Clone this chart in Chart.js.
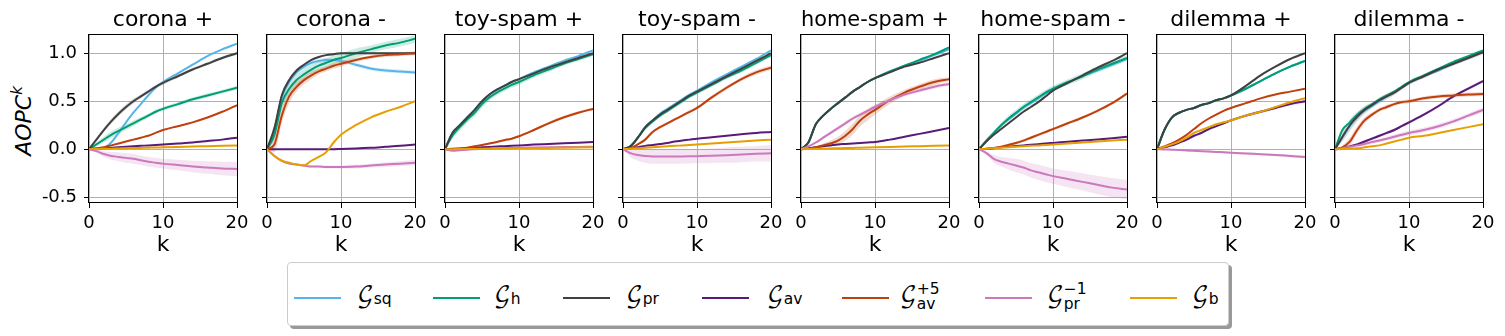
<!DOCTYPE html>
<html><head><meta charset="utf-8">
<script src="https://cdn.jsdelivr.net/npm/chart.js@4.4.0/dist/chart.umd.min.js"></script>
<style>
html,body{margin:0;padding:0;background:#fff;}
body{width:1505px;height:336px;position:relative;overflow:hidden;font-family:'DejaVu Sans';}
canvas{position:absolute;top:0;}
#ylab{position:absolute;left:-36px;top:108px;width:120px;height:26px;line-height:26px;text-align:center;font-size:22px;transform:rotate(-90deg);white-space:nowrap;color:#000;}
#ylab sup{font-size:15px;line-height:0;vertical-align:9px;}
#legend{position:absolute;left:287px;top:262px;width:940px;height:62px;border:1px solid #cccccc;border-radius:4px;box-shadow:3px 3px 0 #999;background:#fff;}
.sw{position:absolute;height:2px;top:34px;width:47px;}
.lt{position:absolute;top:21px;font-size:22px;line-height:22px;white-space:nowrap;color:#000;}
.g{font-family:'DejaVu Math TeX Gyre','DejaVu Serif','DejaVu Sans';}
.sb{font-size:15.5px;position:relative;top:2px;}
.stk{display:inline-block;position:relative;width:24px;height:10px;}
.stk .a{position:absolute;left:0;top:-10px;font-size:15.5px;line-height:15.5px;}
.stk .b{position:absolute;left:0;top:5px;font-size:15.5px;line-height:15.5px;}
</style></head>
<body>
<div id="ylab"><i>AOPC</i><sup><i>k</i></sup></div>
<div id="legend"></div>
<script>
// ---------------- data ----------------
const K = [0,1,2,3,4,5,6,7,8,9,10,12,14,16,18,20];
const xTicks = [0,10,20];
const yTicks = [-0.5,0,0.5,1.0];
const panelTitles = ['corona +','corona -','toy-spam +','toy-spam -','home-spam +','home-spam -','dilemma +','dilemma -'];
const seriesColors = ['#56B4E9','#009E73','#404040','#5A1A78','#BF400C','#CC78BC','#E69F00'];

// corona +
const cp_sq    = [0,0.0,0.01,0.07,0.17,0.28,0.38,0.47,0.56,0.64,0.7,0.79,0.88,0.97,1.04,1.1];
const cp_h     = [0,0.05,0.1,0.15,0.19,0.23,0.27,0.31,0.35,0.39,0.42,0.47,0.52,0.56,0.6,0.64];
const cp_pr    = [0,0.1,0.2,0.29,0.37,0.44,0.5,0.55,0.6,0.65,0.69,0.76,0.83,0.89,0.95,1.0];
const cp_av    = [0,0.005,0.01,0.015,0.02,0.025,0.03,0.035,0.04,0.045,0.05,0.06,0.07,0.085,0.1,0.12];
const cp_av5   = [0,0.01,0.02,0.04,0.06,0.08,0.1,0.12,0.14,0.17,0.2,0.24,0.28,0.33,0.39,0.46];
const cp_prInv = [0,-0.02,-0.05,-0.07,-0.08,-0.09,-0.1,-0.115,-0.13,-0.14,-0.15,-0.165,-0.18,-0.19,-0.2,-0.205];
const cp_b     = [0,0.002,0.004,0.006,0.008,0.01,0.012,0.014,0.016,0.018,0.02,0.024,0.028,0.032,0.036,0.04];
const cp_pr_sd    = [0,0.015,0.02,0.025,0.025,0.025,0.025,0.02,0.02,0.02,0.02,0.015,0.015,0.015,0.015,0.015];
const cp_h_sd     = [0,0.02,0.03,0.035,0.035,0.03,0.03,0.025,0.02,0.02,0.02,0.02,0.02,0.02,0.02,0.02];
const cp_prInv_sd = [0,0.02,0.03,0.04,0.045,0.05,0.05,0.05,0.05,0.05,0.05,0.055,0.06,0.065,0.07,0.075];

// corona -
const cm_sq    = [0,0.2,0.54,0.7,0.8,0.86,0.9,0.92,0.93,0.93,0.92,0.88,0.84,0.82,0.81,0.8];
const cm_h     = [0,0.15,0.48,0.63,0.72,0.78,0.83,0.87,0.9,0.93,0.95,1.0,1.04,1.08,1.11,1.15];
const cm_pr    = [0,0.22,0.56,0.72,0.82,0.88,0.93,0.96,0.98,0.99,1.0,1.0,1.0,1.0,1.0,1.0];
const cm_av    = [0,0,0,0,0,0,0,0,0,0,0.003,0.008,0.015,0.025,0.035,0.05];
const cm_av5   = [0,0.05,0.35,0.55,0.65,0.72,0.77,0.81,0.84,0.87,0.89,0.93,0.96,0.98,0.99,1.0];
const cm_prInv = [0,-0.07,-0.12,-0.15,-0.16,-0.17,-0.18,-0.18,-0.185,-0.185,-0.185,-0.18,-0.17,-0.16,-0.15,-0.14];
const cm_b     = [0,-0.07,-0.12,-0.14,-0.16,-0.17,-0.12,-0.08,-0.03,0.07,0.15,0.25,0.33,0.39,0.44,0.5];
const cm_sq_sd    = [0,0.03,0.03,0.03,0.02,0.02,0.02,0.02,0.02,0.02,0.02,0.02,0.02,0.02,0.02,0.02];
const cm_h_sd     = [0,0.05,0.07,0.07,0.06,0.06,0.05,0.05,0.05,0.05,0.05,0.05,0.04,0.04,0.04,0.04];
const cm_pr_sd    = [0,0.03,0.03,0.02,0.02,0.015,0.01,0.01,0.01,0.01,0.01,0.01,0.01,0.01,0.01,0.01];
const cm_av5_sd   = [0,0.08,0.08,0.07,0.05,0.04,0.04,0.03,0.03,0.03,0.03,0.02,0.02,0.02,0.02,0.02];
const cm_prInv_sd = [0,0.01,0.01,0.01,0.01,0.01,0.01,0.01,0.015,0.015,0.015,0.02,0.02,0.025,0.025,0.03];

// toy-spam +
const tp_sq    = [0,0.17,0.25,0.33,0.41,0.5,0.57,0.62,0.66,0.7,0.73,0.8,0.86,0.92,0.97,1.03];
const tp_h     = [0,0.14,0.23,0.31,0.38,0.47,0.54,0.59,0.63,0.67,0.7,0.77,0.83,0.89,0.94,0.99];
const tp_pr    = [0,0.17,0.25,0.33,0.41,0.5,0.57,0.62,0.66,0.7,0.73,0.79,0.85,0.9,0.95,1.0];
const tp_av    = [0,0.004,0.008,0.012,0.016,0.02,0.024,0.028,0.032,0.036,0.04,0.048,0.055,0.062,0.068,0.075];
const tp_av5   = [0,0,0.005,0.015,0.03,0.045,0.06,0.075,0.094,0.11,0.135,0.2,0.27,0.33,0.38,0.42];
const tp_prInv = [0,-0.015,-0.01,-0.005,0,0.003,0.006,0.009,0.012,0.014,0.016,0.018,0.02,0.022,0.024,0.025];
const tp_b     = [0,0.001,0.002,0.003,0.004,0.005,0.006,0.007,0.008,0.009,0.01,0.012,0.014,0.016,0.018,0.02];
const tp_h_sd   = [0,0.03,0.04,0.04,0.04,0.04,0.035,0.03,0.03,0.03,0.03,0.025,0.025,0.02,0.02,0.02];
const tp_av5_sd = [0,0.005,0.005,0.01,0.01,0.01,0.01,0.01,0.01,0.01,0.012,0.012,0.015,0.015,0.015,0.015];

// toy-spam -
const tm_sq    = [0,0.03,0.12,0.23,0.3,0.37,0.42,0.47,0.52,0.57,0.61,0.7,0.78,0.86,0.94,1.03];
const tm_h     = [0,0.03,0.12,0.22,0.29,0.35,0.4,0.45,0.5,0.55,0.59,0.67,0.75,0.82,0.9,0.98];
const tm_pr    = [0,0.03,0.12,0.23,0.3,0.36,0.41,0.46,0.51,0.56,0.6,0.68,0.76,0.84,0.92,1.0];
const tm_av    = [0,0.01,0.02,0.035,0.045,0.055,0.065,0.08,0.09,0.1,0.11,0.125,0.14,0.155,0.17,0.18];
const tm_av5   = [0,0.01,0.05,0.1,0.18,0.23,0.27,0.31,0.35,0.39,0.43,0.54,0.64,0.73,0.8,0.85];
const tm_prInv = [0,-0.04,-0.06,-0.07,-0.075,-0.075,-0.075,-0.075,-0.075,-0.074,-0.072,-0.068,-0.062,-0.055,-0.048,-0.042];
const tm_b     = [0,0.005,0.01,0.015,0.02,0.025,0.03,0.035,0.04,0.045,0.05,0.06,0.07,0.08,0.09,0.1];
const tm_h_sd     = [0,0.01,0.015,0.02,0.02,0.02,0.02,0.02,0.02,0.02,0.02,0.02,0.02,0.02,0.02,0.02];
const tm_av5_sd   = [0,0.01,0.01,0.015,0.015,0.015,0.015,0.015,0.015,0.015,0.015,0.02,0.02,0.02,0.025,0.025];
const tm_prInv_sd = [0,0.04,0.06,0.07,0.075,0.075,0.075,0.075,0.075,0.075,0.075,0.075,0.08,0.08,0.08,0.085];

// home-spam +
const hp_sq    = [0,0.07,0.26,0.35,0.42,0.48,0.54,0.6,0.65,0.7,0.74,0.81,0.87,0.92,0.98,1.04];
const hp_h     = [0,0.07,0.26,0.35,0.42,0.48,0.54,0.6,0.65,0.7,0.74,0.81,0.87,0.93,0.99,1.06];
const hp_pr    = [0,0.07,0.26,0.35,0.42,0.48,0.54,0.6,0.65,0.7,0.74,0.8,0.86,0.9,0.95,1.0];
const hp_av    = [0,0.01,0.02,0.03,0.04,0.05,0.055,0.06,0.065,0.07,0.075,0.1,0.13,0.16,0.19,0.22];
const hp_av5   = [0,0.005,0.02,0.04,0.06,0.09,0.14,0.21,0.3,0.36,0.41,0.51,0.59,0.65,0.7,0.73];
const hp_prInv = [0,0.03,0.07,0.12,0.17,0.22,0.27,0.32,0.36,0.4,0.44,0.51,0.57,0.61,0.65,0.68];
const hp_b     = [0,0.002,0.004,0.006,0.008,0.01,0.012,0.014,0.016,0.018,0.02,0.024,0.028,0.032,0.036,0.04];
const hp_av5_sd   = [0,0.01,0.01,0.02,0.03,0.04,0.05,0.06,0.06,0.06,0.05,0.04,0.03,0.03,0.03,0.02];
const hp_prInv_sd = [0,0.01,0.015,0.015,0.02,0.02,0.02,0.02,0.02,0.02,0.02,0.02,0.02,0.02,0.02,0.02];

// home-spam -
const hm_sq    = [0,0.09,0.17,0.25,0.31,0.37,0.43,0.48,0.53,0.58,0.62,0.69,0.76,0.82,0.88,0.94];
const hm_h     = [0,0.09,0.17,0.25,0.32,0.38,0.44,0.49,0.54,0.59,0.63,0.7,0.76,0.83,0.89,0.95];
const hm_pr    = [0,0.08,0.15,0.21,0.27,0.33,0.39,0.44,0.49,0.55,0.61,0.69,0.77,0.85,0.92,1.0];
const hm_av    = [0,0.005,0.012,0.02,0.027,0.034,0.04,0.047,0.053,0.06,0.066,0.078,0.09,0.102,0.115,0.13];
const hm_av5   = [0,0.002,0.01,0.025,0.045,0.065,0.09,0.12,0.15,0.18,0.21,0.27,0.33,0.4,0.48,0.58];
const hm_prInv = [0,-0.04,-0.1,-0.13,-0.15,-0.17,-0.19,-0.22,-0.24,-0.26,-0.28,-0.31,-0.34,-0.37,-0.4,-0.42];
const hm_b     = [0,0.005,0.01,0.015,0.02,0.025,0.03,0.035,0.04,0.045,0.05,0.06,0.07,0.08,0.09,0.1];
const hm_h_sd     = [0,0.02,0.02,0.025,0.03,0.03,0.03,0.03,0.03,0.03,0.03,0.03,0.03,0.03,0.03,0.03];
const hm_av5_sd   = [0,0.005,0.01,0.01,0.015,0.015,0.015,0.015,0.015,0.015,0.015,0.015,0.015,0.015,0.015,0.015];
const hm_prInv_sd = [0,0.02,0.04,0.05,0.06,0.07,0.07,0.075,0.08,0.08,0.08,0.085,0.09,0.095,0.1,0.1];

// dilemma +
const dp_sq    = [0,0.2,0.33,0.38,0.41,0.43,0.46,0.48,0.51,0.53,0.56,0.63,0.71,0.79,0.86,0.92];
const dp_h     = [0,0.2,0.33,0.38,0.41,0.43,0.46,0.48,0.51,0.53,0.56,0.63,0.71,0.79,0.86,0.92];
const dp_pr    = [0,0.2,0.33,0.38,0.41,0.43,0.46,0.48,0.51,0.53,0.56,0.66,0.77,0.86,0.94,1.0];
const dp_av    = [0,0.02,0.04,0.07,0.1,0.14,0.17,0.21,0.24,0.27,0.3,0.35,0.39,0.43,0.47,0.5];
const dp_av5   = [0,0.03,0.06,0.1,0.15,0.21,0.27,0.32,0.36,0.4,0.43,0.48,0.53,0.57,0.6,0.63];
const dp_prInv = [0,-0.002,-0.005,-0.008,-0.012,-0.016,-0.02,-0.024,-0.028,-0.032,-0.036,-0.044,-0.052,-0.06,-0.07,-0.08];
const dp_b     = [0,0.025,0.05,0.08,0.12,0.17,0.2,0.23,0.26,0.28,0.3,0.35,0.39,0.44,0.49,0.53];
const dp_av_sd    = [0,0.01,0.015,0.015,0.015,0.015,0.015,0.015,0.015,0.015,0.015,0.015,0.015,0.015,0.015,0.015];
const dp_prInv_sd = [0,0.005,0.005,0.005,0.01,0.01,0.01,0.01,0.01,0.01,0.01,0.012,0.012,0.014,0.015,0.015];

// dilemma -
const dm_sq    = [0,0.12,0.24,0.33,0.4,0.45,0.5,0.55,0.59,0.64,0.69,0.76,0.82,0.89,0.95,1.01];
const dm_h     = [0,0.2,0.28,0.36,0.42,0.47,0.52,0.56,0.6,0.65,0.7,0.77,0.84,0.91,0.97,1.03];
const dm_pr    = [0,0.13,0.25,0.34,0.41,0.46,0.51,0.55,0.59,0.64,0.69,0.76,0.83,0.89,0.95,1.01];
const dm_av    = [0,0.01,0.03,0.05,0.08,0.11,0.14,0.17,0.2,0.24,0.28,0.36,0.45,0.55,0.63,0.71];
const dm_av5   = [0,0.02,0.08,0.2,0.3,0.36,0.41,0.44,0.47,0.49,0.5,0.53,0.55,0.56,0.57,0.575];
const dm_prInv = [0,0.01,0.025,0.04,0.055,0.075,0.09,0.11,0.13,0.15,0.17,0.2,0.24,0.29,0.35,0.41];
const dm_b     = [0,0.002,0.006,0.01,0.02,0.03,0.04,0.06,0.08,0.1,0.12,0.14,0.17,0.2,0.23,0.26];
const dm_pr_sd    = [0,0.05,0.06,0.05,0.04,0.03,0.03,0.03,0.025,0.02,0.02,0.02,0.02,0.02,0.02,0.02];
const dm_av5_sd   = [0,0.02,0.04,0.04,0.03,0.025,0.02,0.02,0.02,0.02,0.02,0.02,0.02,0.02,0.02,0.02];
const dm_av_sd    = [0,0.01,0.01,0.015,0.015,0.015,0.015,0.015,0.015,0.015,0.015,0.015,0.015,0.015,0.015,0.015];
const dm_prInv_sd = [0,0.01,0.015,0.02,0.02,0.02,0.02,0.02,0.025,0.025,0.025,0.025,0.025,0.025,0.025,0.03];

// -------------- panel tables built from the arrays --------------
const panelSeries = [
  [cp_sq,cp_h,cp_pr,cp_av,cp_av5,cp_prInv,cp_b],
  [cm_sq,cm_h,cm_pr,cm_av,cm_av5,cm_prInv,cm_b],
  [tp_sq,tp_h,tp_pr,tp_av,tp_av5,tp_prInv,tp_b],
  [tm_sq,tm_h,tm_pr,tm_av,tm_av5,tm_prInv,tm_b],
  [hp_sq,hp_h,hp_pr,hp_av,hp_av5,hp_prInv,hp_b],
  [hm_sq,hm_h,hm_pr,hm_av,hm_av5,hm_prInv,hm_b],
  [dp_sq,dp_h,dp_pr,dp_av,dp_av5,dp_prInv,dp_b],
  [dm_sq,dm_h,dm_pr,dm_av,dm_av5,dm_prInv,dm_b]
];
const panelSpreads = [
  {1:cp_h_sd,2:cp_pr_sd,5:cp_prInv_sd},
  {0:cm_sq_sd,1:cm_h_sd,2:cm_pr_sd,4:cm_av5_sd,5:cm_prInv_sd},
  {1:tp_h_sd,4:tp_av5_sd},
  {1:tm_h_sd,4:tm_av5_sd,5:tm_prInv_sd},
  {4:hp_av5_sd,5:hp_prInv_sd},
  {1:hm_h_sd,4:hm_av5_sd,5:hm_prInv_sd},
  {3:dp_av_sd,5:dp_prInv_sd},
  {2:dm_pr_sd,3:dm_av_sd,4:dm_av5_sd,5:dm_prInv_sd}
];

// -------------- layout --------------
const plotLefts = [89,267,445,623,801,979,1157,1335];
const plotW = 148, canvasH = 260, padR = 25;

Chart.defaults.font.family = "'DejaVu Sans'";

function hexA(hex, a){
  const n = parseInt(hex.slice(1),16);
  return `rgba(${(n>>16)&255},${(n>>8)&255},${n&255},${a})`;
}

const framePlugin = {
  id:'frame',
  afterDatasetsDraw(chart){
    const {ctx, chartArea:{left,right,top,bottom}} = chart;
    ctx.save();
    ctx.strokeStyle = '#000';
    ctx.lineWidth = 1;
    ctx.strokeRect(Math.round(left)-0.5, Math.round(top)+0.5, Math.round(right-left)+1, Math.round(bottom-top)-1);
    ctx.restore();
  }
};

panelTitles.forEach((title, i) => {
  const yw = i === 0 ? 89 : 40;
  const W = yw + plotW + padR;
  const cv = document.createElement('canvas');
  cv.width = W; cv.height = canvasH;
  cv.style.left = (plotLefts[i] - yw) + 'px';
  cv.style.width = W + 'px'; cv.style.height = canvasH + 'px';
  document.body.appendChild(cv);

  const datasets = [];
  const series = panelSeries[i];
  const spreads = panelSpreads[i];
  series.forEach((vals, s) => {
    const sd = spreads[s];
    if (!sd) return;
    const common = {pointRadius:0, borderWidth:0, borderColor:'rgba(0,0,0,0)', clip:0,
                    cubicInterpolationMode:'monotone', order:100 - s};
    datasets.push(Object.assign({data: K.map((k,j)=>({x:k, y: vals[j]-sd[j]})), fill:false}, common));
    datasets.push(Object.assign({data: K.map((k,j)=>({x:k, y: vals[j]+sd[j]})), fill:'-1',
                                 backgroundColor: hexA(seriesColors[s], 0.2)}, common));
  });
  series.forEach((vals, s) => {
    datasets.push({
      data: K.map((k,j)=>({x:k, y: vals[j]})),
      borderColor: seriesColors[s], borderWidth: 2, pointRadius: 0, fill:false,
      cubicInterpolationMode:'monotone', clip:0, order: 20 - s
    });
  });

  new Chart(cv, {
    type:'line',
    data:{datasets},
    options:{
      responsive:false, animation:false, devicePixelRatio:1,
      events:[],
      layout:{padding:{left:0,right:padR,top:0,bottom:0}},
      plugins:{
        legend:{display:false}, tooltip:{enabled:false},
        title:{display:true, text:title, color:'#000', fullSize:false,
               font:{size:22, weight:'normal', family:"'DejaVu Sans'"},
               padding:{top:7.3, bottom:0.3}}
      },
      scales:{
        x:{type:'linear', min:0, max:20,
           afterBuildTicks: s => { s.ticks = xTicks.map(v => ({value:v})); },
           afterFit: s => { s.height = canvasH - 203; },
           grid:{color:'#b0b0b0', lineWidth:1, tickColor:'#000', tickLength:5, drawTicks:true},
           border:{display:false},
           ticks:{color:'#000', font:{size:18}, padding:5, maxRotation:0, autoSkip:false,
                  callback: v => String(v)},
           title:{display:true, text:'k', color:'#000', font:{size:22}, padding:{top:0,bottom:1.3}}
        },
        y:{min:-0.56, max:1.2,
           afterBuildTicks: s => { s.ticks = yTicks.map(v => ({value:v})); },
           afterFit: s => { s.width = yw; },
           grid:{color:'#b0b0b0', lineWidth:1, tickColor:'#000', tickLength:5, drawTicks:true},
           border:{display:false},
           ticks:{display: i === 0, color:'#000', font:{size:18}, padding:7,
                  callback: v => Number(v).toFixed(1)}
        }
      }
    },
    plugins:[framePlugin]
  });
});

// -------------- legend --------------
const legendLabels = [
  {main:'𝒢', sub:'sq'},
  {main:'𝒢', sub:'h'},
  {main:'𝒢', sub:'pr'},
  {main:'𝒢', sub:'av'},
  {main:'𝒢', sub:'av', sup:'+5'},
  {main:'𝒢', sub:'pr', sup:'−1'},
  {main:'𝒢', sub:'b'}
];
const swatchX = [294,433,563,702,842,985,1130];
const textX   = [357,494,626,767,900,1047,1192];
const leg = document.getElementById('legend');
legendLabels.forEach((lab, s) => {
  const sw = document.createElement('div');
  sw.className = 'sw';
  sw.style.left = (swatchX[s] - 288) + 'px';
  sw.style.background = seriesColors[s];
  leg.appendChild(sw);
  const t = document.createElement('div');
  t.className = 'lt';
  t.style.left = (textX[s] - 288) + 'px';
  if (lab.sup) {
    t.innerHTML = `<span class="g">${lab.main}</span><span class="stk"><span class="a">${lab.sup}</span><span class="b">${lab.sub}</span></span>`;
  } else {
    t.innerHTML = `<span class="g">${lab.main}</span><span class="sb">${lab.sub}</span>`;
  }
  leg.appendChild(t);
});
</script>
</body></html>
